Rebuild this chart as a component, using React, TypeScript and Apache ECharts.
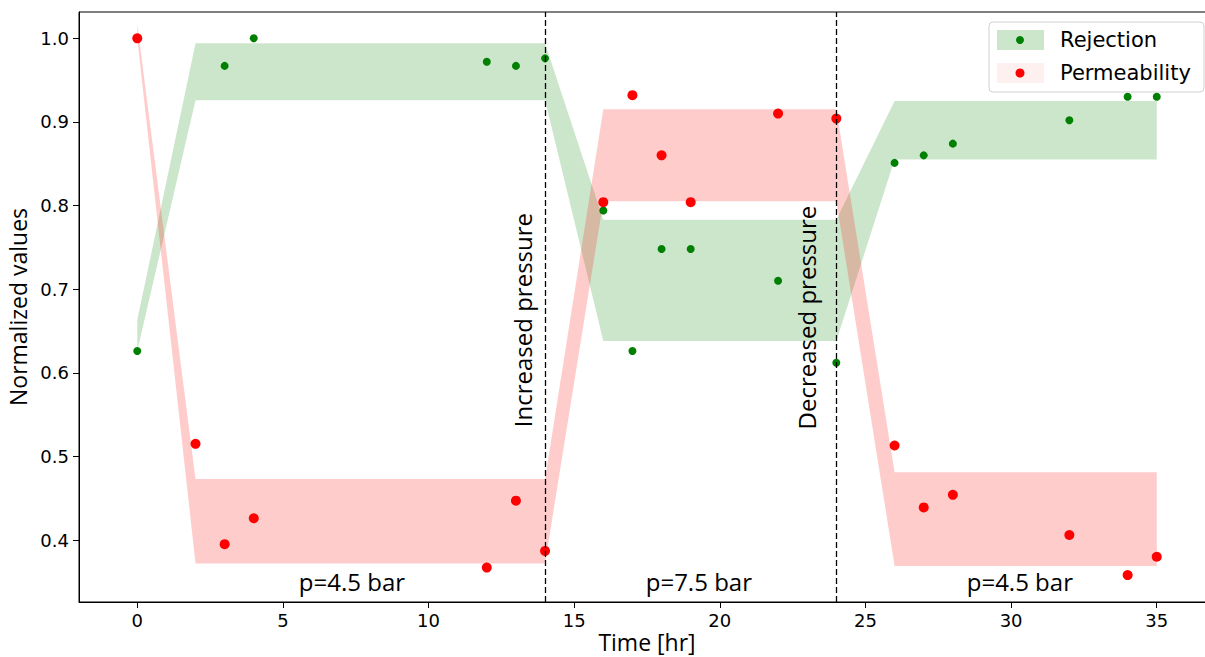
import React, { useEffect, useRef } from "react";
import * as echarts from "echarts";

const rejectionX = [0, 3, 4, 12, 13, 14, 16, 17, 18, 19, 22, 24, 26, 27, 28, 32, 34, 35];
const rejectionY = [0.626, 0.967, 1.0, 0.972, 0.967, 0.976, 0.794, 0.626, 0.748, 0.748, 0.71, 0.612, 0.851, 0.86, 0.874, 0.902, 0.93, 0.93];
const permeabilityX = [0, 2, 3, 4, 12, 13, 14, 16, 17, 18, 19, 22, 24, 26, 27, 28, 32, 34, 35];
const permeabilityY = [1.0, 0.515, 0.395, 0.426, 0.367, 0.447, 0.387, 0.804, 0.932, 0.86, 0.804, 0.91, 0.904, 0.513, 0.439, 0.454, 0.406, 0.358, 0.38];

const bandX = [0, 2, 14, 16, 24, 26, 35];
const rejectionLow = [0.626, 0.926, 0.926, 0.638, 0.638, 0.855, 0.855];
const rejectionHigh = [0.663, 0.994, 0.994, 0.783, 0.783, 0.925, 0.925];
const permeabilityLow = [1.0, 0.372, 0.372, 0.805, 0.805, 0.369, 0.369];
const permeabilityHigh = [1.017, 0.473, 0.473, 0.915, 0.915, 0.481, 0.481];

const pressureChanges = [14, 24];
const xTicks = [0, 5, 10, 15, 20, 25, 30, 35];
const yTicks = [0.4, 0.5, 0.6, 0.7, 0.8, 0.9, 1.0];
const X_MIN = -2;
const X_MAX = 37;
const Y_MIN = 0.32586;
const Y_MAX = 1.03145;

const rotatedNotes = [
  { text: "Increased pressure", x: 13.21, y: 0.663 },
  { text: "Decreased pressure", x: 22.98, y: 0.666 },
];
const pressureNotes = [
  { text: "p=4.5 bar", x: 7.37, y: 0.35 },
  { text: "p=7.5 bar", x: 19.28, y: 0.35 },
  { text: "p=4.5 bar", x: 30.3, y: 0.35 },
];

const GREEN = "#008000";
const RED = "#ff0000";
const TICK_FONT = "DejaVu Sans";
const NOTE_FONT = "Open Sans";
const NOTE_SIZE = 24;

function bandRenderer(fill: string) {
  return (params: any, api: any) => {
    if (params.dataIndexInside !== 0) return null;
    const n = params.dataInsideLength;
    const upper: number[][] = [];
    const lower: number[][] = [];
    for (let i = 0; i < n; i++) {
      upper.push(api.coord([api.value(0, i), api.value(2, i)]));
      lower.push(api.coord([api.value(0, i), api.value(1, i)]));
    }
    const pts = upper.concat(lower.reverse());
    return {
      type: "polygon",
      shape: { points: pts },
      style: { fill },
      silent: true,
    };
  };
}

export default function App() {
  const ref = useRef<HTMLDivElement>(null);

  useEffect(() => {
    if (!ref.current) return;
    const chart = echarts.init(ref.current, undefined, { renderer: "svg" });

    const option: any = {
      animation: false,
      backgroundColor: "#ffffff",
      grid: {
        left: 79,
        top: 12,
        width: 1136,
        height: 590,
        containLabel: false,
        outerBoundsMode: "none",
        show: true,
        borderColor: "#000",
        borderWidth: 1,
        backgroundColor: "transparent",
      },
      xAxis: {
        type: "value",
        min: X_MIN,
        max: X_MAX,
        axisLine: { show: true, onZero: false, lineStyle: { color: "#000", width: 1 } },
        axisTick: { show: true, length: 6, customValues: xTicks, lineStyle: { color: "#000" } },
        axisLabel: {
          customValues: xTicks,
          fontFamily: TICK_FONT,
          fontSize: 18,
          color: "#000",
          margin: 9,
        },
        splitLine: { show: false },
      },
      yAxis: {
        type: "value",
        min: Y_MIN,
        max: Y_MAX,
        name: "Normalized values",
        nameLocation: "middle",
        nameGap: 44,
        nameTextStyle: { fontFamily: NOTE_FONT, fontSize: 23, color: "#000" },
        axisLine: { show: true, onZero: false, lineStyle: { color: "#000", width: 1 } },
        axisTick: { show: true, length: 6, customValues: yTicks, lineStyle: { color: "#000" } },
        axisLabel: {
          customValues: yTicks,
          fontFamily: TICK_FONT,
          fontSize: 18,
          color: "#000",
          margin: 10,
          formatter: (v: number) => v.toFixed(1),
        },
        splitLine: { show: false },
      },
      series: [
        {
          type: "custom",
          name: "RejectionBand",
          z: 1,
          renderItem: bandRenderer("rgba(0,128,0,0.2)"),
          encode: { x: 0, y: [1, 2] },
          data: bandX.map((x, i) => [x, rejectionLow[i], rejectionHigh[i]]),
          silent: true,
        },
        {
          type: "custom",
          name: "PermeabilityBand",
          z: 1,
          renderItem: bandRenderer("rgba(255,0,0,0.2)"),
          encode: { x: 0, y: [1, 2] },
          data: bandX.map((x, i) => [x, permeabilityLow[i], permeabilityHigh[i]]),
          silent: true,
        },
        {
          type: "scatter",
          name: "Rejection",
          z: 3,
          symbol: "circle",
          symbolSize: 8,
          itemStyle: { color: GREEN, opacity: 1 },
          data: rejectionX.map((x, i) => [x, rejectionY[i]]),
          markLine: {
            silent: true,
            symbol: ["none", "none"],
            label: { show: false },
            lineStyle: { color: "#000", type: [6, 3], width: 1.3, opacity: 1 },
            data: pressureChanges.map((x) => ({ xAxis: x })),
          },
        },
        {
          type: "scatter",
          name: "Permeability",
          z: 4,
          symbol: "circle",
          symbolSize: 10,
          itemStyle: { color: RED, opacity: 1 },
          data: permeabilityX.map((x, i) => [x, permeabilityY[i]]),
        },
      ],
    };

    chart.setOption(option);

    const graphics: any[] = [];
    rotatedNotes.forEach((n) => {
      const p = chart.convertToPixel({ gridIndex: 0 }, [n.x, n.y]) as number[];
      graphics.push({
        type: "text",
        x: p[0],
        y: p[1],
        rotation: Math.PI / 2,
        z: 10,
        style: {
          text: n.text,
          fontFamily: NOTE_FONT,
          fontSize: NOTE_SIZE,
          fill: "#000",
          textAlign: "center",
          textVerticalAlign: "middle",
        },
      });
    });
    pressureNotes.forEach((n) => {
      const p = chart.convertToPixel({ gridIndex: 0 }, [n.x, n.y]) as number[];
      graphics.push({
        type: "text",
        x: p[0],
        y: p[1],
        z: 10,
        style: {
          text: n.text,
          fontFamily: NOTE_FONT,
          fontSize: NOTE_SIZE,
          fill: "#000",
          textAlign: "center",
          textVerticalAlign: "middle",
        },
      });
    });

    // x-axis title, centred under the axis
    const axisBottom = chart.convertToPixel({ gridIndex: 0 }, [(X_MIN + X_MAX) / 2, Y_MIN]) as number[];
    graphics.push({
      type: "text",
      x: axisBottom[0],
      y: axisBottom[1] + 40,
      z: 10,
      style: {
        text: "Time [hr]",
        fontFamily: NOTE_FONT,
        fontSize: 23,
        fill: "#000",
        textAlign: "center",
        textVerticalAlign: "middle",
      },
    });

    // legend
    graphics.push({
      type: "group",
      z: 20,
      children: [
        {
          type: "rect",
          shape: { x: 989, y: 22, width: 215, height: 70, r: 4 },
          style: { fill: "rgba(255,255,255,0.85)", stroke: "#d0d0d0", lineWidth: 1 },
        },
        {
          type: "rect",
          shape: { x: 997, y: 30, width: 47, height: 20 },
          style: { fill: "rgba(0,128,0,0.2)" },
        },
        {
          type: "circle",
          shape: { cx: 1020, cy: 40, r: 4 },
          style: { fill: GREEN },
        },
        {
          type: "text",
          x: 1060,
          y: 40,
          style: {
            text: "Rejection",
            fontFamily: TICK_FONT,
            fontSize: 21,
            fill: "#000",
            textAlign: "left",
            textVerticalAlign: "middle",
          },
        },
        {
          type: "rect",
          shape: { x: 997, y: 63, width: 47, height: 20 },
          style: { fill: "rgba(255,0,0,0.06)" },
        },
        {
          type: "circle",
          shape: { cx: 1020, cy: 73, r: 4.5 },
          style: { fill: RED },
        },
        {
          type: "text",
          x: 1060,
          y: 73,
          style: {
            text: "Permeability",
            fontFamily: TICK_FONT,
            fontSize: 21,
            fill: "#000",
            textAlign: "left",
            textVerticalAlign: "middle",
          },
        },
      ],
    });

    chart.setOption({ graphic: graphics });

    return () => {
      chart.dispose();
    };
  }, []);

  return (
    <div
      style={{
        position: "fixed",
        left: 0,
        top: 0,
        width: 1205,
        height: 657,
        overflow: "hidden",
        background: "#fff",
      }}
    >
      <div ref={ref} style={{ width: 1225, height: 657 }} />
    </div>
  );
}
